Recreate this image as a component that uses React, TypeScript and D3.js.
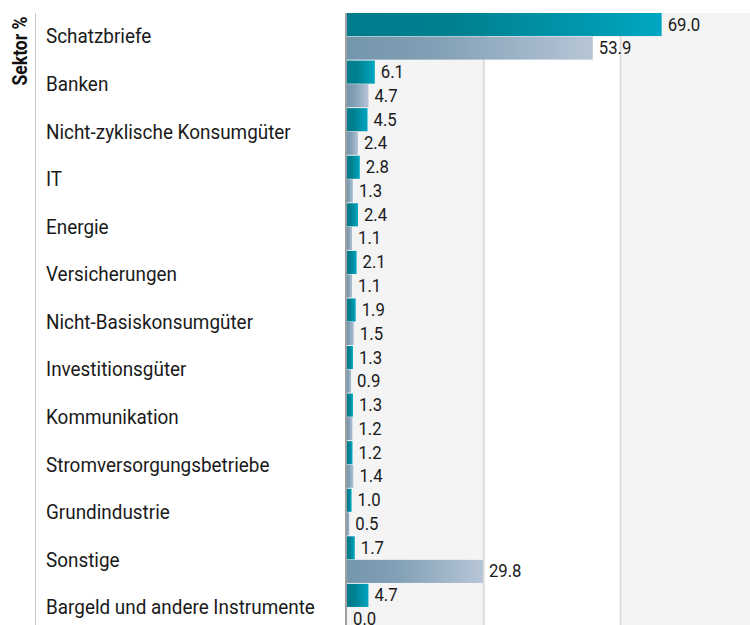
import React from "react";
import * as d3 from "d3";

const categories = [
  "Schatzbriefe",
  "Banken",
  "Nicht-zyklische Konsumgüter",
  "IT",
  "Energie",
  "Versicherungen",
  "Nicht-Basiskonsumgüter",
  "Investitionsgüter",
  "Kommunikation",
  "Stromversorgungsbetriebe",
  "Grundindustrie",
  "Sonstige",
  "Bargeld und andere Instrumente",
];
const seriesA = [69.0, 6.1, 4.5, 2.8, 2.4, 2.1, 1.9, 1.3, 1.3, 1.2, 1.0, 1.7, 4.7];
const seriesB = [53.9, 4.7, 2.4, 1.3, 1.1, 1.1, 1.5, 0.9, 1.2, 1.4, 0.5, 29.8, 0.0];
const gridTicks = [0, 30, 60, 90];
const axisTitle = "Sektor %";

const W = 750;
const H = 625;
const FONT = "Roboto, 'Liberation Sans', sans-serif";
const CONDENSE = 0.88;

export default function App() {
  const x0 = 347;
  const x = d3.scaleLinear().domain([0, 90]).range([x0, x0 + 90 * 4.56]);
  const y = d3
    .scaleBand<string>()
    .domain(categories)
    .range([13, 13 + 47.5 * categories.length])
    .paddingInner(0.02)
    .paddingOuter(0);
  const sub = d3
    .scaleBand<string>()
    .domain(["a", "b"])
    .range([0, y.bandwidth()])
    .paddingInner(0.02);

  const bands = gridTicks.slice(0, -1).map((t, i) => ({
    x1: x(t),
    x2: x(gridTicks[i + 1]),
    fill: i % 2 === 0 ? "#f4f4f4" : "#ffffff",
  }));

  return (
    <svg
      width={W}
      height={H}
      style={{ position: "absolute", left: 0, top: 0, background: "#fff" }}
      fontFamily={FONT}
    >
      <defs>
        <linearGradient id="gA" x1="0" x2="1" y1="0" y2="0">
          <stop offset="0" stopColor="#007c8d" />
          <stop offset="0.35" stopColor="#00808f" />
          <stop offset="1" stopColor="#00a6c2" />
        </linearGradient>
        <linearGradient id="gB" x1="0" x2="1" y1="0" y2="0">
          <stop offset="0" stopColor="#7496ad" />
          <stop offset="0.35" stopColor="#819fb5" />
          <stop offset="1" stopColor="#b6c5d6" />
        </linearGradient>
      </defs>
      {bands.map((b, i) => (
        <rect key={i} x={b.x1} y={13} width={b.x2 - b.x1} height={H} fill={b.fill} />
      ))}
      {gridTicks.slice(1).map((t) => (
        <line key={t} x1={x(t)} x2={x(t)} y1={13} y2={H} stroke="#dddddd" strokeWidth={2} />
      ))}
      <line x1={35.5} x2={35.5} y1={13} y2={H} stroke="#cccccc" strokeWidth={1} />
      <text
        transform={`translate(27,51) rotate(-90) scale(${CONDENSE},1)`}
        textAnchor="middle"
        fontWeight="bold"
        fontSize={20}
        fill="#111"
      >
        {axisTitle}
      </text>
      {categories.map((c, i) => {
        const gy = y(c)!;
        const ya = gy + sub("a")!;
        const yb = gy + sub("b")!;
        const bh = sub.bandwidth();
        return (
          <g key={c}>
            <text
              transform={`translate(46,${gy + y.bandwidth() / 2 + 1.5}) scale(0.9,1)`}
              dominantBaseline="middle"
              fontSize={21}
              fill="#1a1a1a"
            >
              {c}
            </text>
            <rect x={x(0)} y={ya} width={x(seriesA[i]) - x(0)} height={bh} fill="url(#gA)" />
            <rect x={x(0)} y={yb} width={x(seriesB[i]) - x(0)} height={bh} fill="url(#gB)" />
            <text
              transform={`translate(${x(seriesA[i]) + 6},${ya + bh / 2 + 1}) scale(${CONDENSE},1)`}
              dominantBaseline="middle"
              fontSize={19}
              fill="#1a1a1a"
            >
              {seriesA[i].toFixed(1)}
            </text>
            <text
              transform={`translate(${x(seriesB[i]) + 6},${yb + bh / 2 + 1}) scale(${CONDENSE},1)`}
              dominantBaseline="middle"
              fontSize={19}
              fill="#1a1a1a"
            >
              {seriesB[i].toFixed(1)}
            </text>
          </g>
        );
      })}
      <line x1={346} x2={346} y1={13} y2={H} stroke="#a0a0a0" strokeWidth={2} />
    </svg>
  );
}
